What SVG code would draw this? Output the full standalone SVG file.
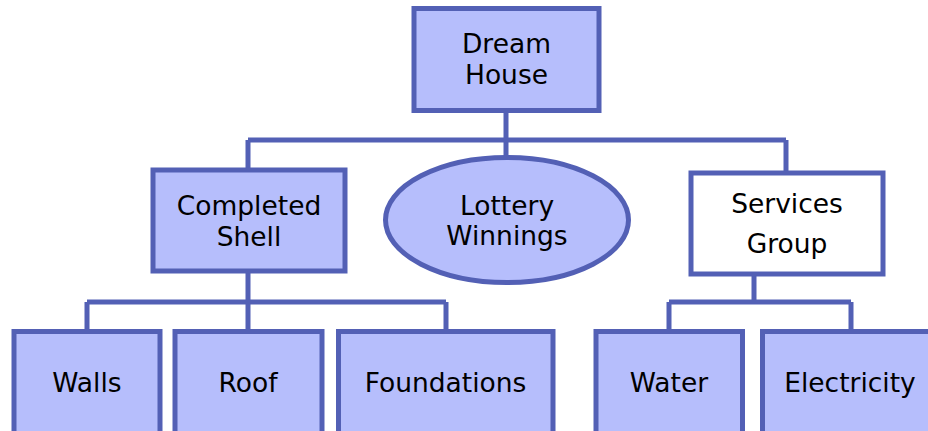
<svg xmlns="http://www.w3.org/2000/svg" width="928" height="431" viewBox="0 0 928 431">
<style>
.box{fill:#B6BEFC;stroke:#5360B5;stroke-width:5}
.wbox{fill:#FFFFFF;stroke:#5360B5;stroke-width:5}
.conn{fill:none;stroke:#5360B5;stroke-width:5}
text{font-family:"DejaVu Sans","Verdana",sans-serif;font-size:26.5px;fill:#000;text-anchor:middle}
</style>
<rect width="928" height="431" fill="#FFFFFF"/>
<g id="connectors">
<path class="conn" d="M506,112 V158 M248,140 H786 M248,140 V170 M786,140 V173"/>
<path class="conn" d="M248,271 V302 M87,302 H446 M87,302 V331 M248,302 V331 M446,302 V331"/>
<path class="conn" d="M754,274 V302 M669,302 H851 M669,302 V331 M851,302 V331"/>
</g>
<g id="dream-house">
<rect class="box" x="414" y="8.5" width="185" height="102"/>
<text x="506.5" y="53">Dream</text>
<text x="506.5" y="84">House</text>
</g>
<g id="completed-shell">
<rect class="box" x="153" y="170" width="192" height="101"/>
<text x="249" y="215">Completed</text>
<text x="249" y="246">Shell</text>
</g>
<g id="lottery-winnings">
<ellipse class="box" cx="507" cy="220" rx="121.5" ry="62.5"/>
<text x="507" y="215">Lottery</text>
<text x="507" y="245">Winnings</text>
</g>
<g id="services-group">
<rect class="wbox" x="691" y="173" width="192" height="101"/>
<text x="787" y="213">Services</text>
<text x="787" y="253">Group</text>
</g>
<g id="walls">
<rect class="box" x="14" y="331.5" width="146" height="120"/>
<text x="87" y="392">Walls</text>
</g>
<g id="roof">
<rect class="box" x="175" y="331.5" width="147" height="120"/>
<text x="248" y="392">Roof</text>
</g>
<g id="foundations">
<rect class="box" x="338.5" y="331.5" width="214.5" height="120"/>
<text x="445.5" y="392">Foundations</text>
</g>
<g id="water">
<rect class="box" x="596" y="331.5" width="146.5" height="120"/>
<text x="669" y="392">Water</text>
</g>
<g id="electricity">
<rect class="box" x="762.5" y="331.5" width="200" height="120"/>
<text x="850" y="392">Electricity</text>
</g>
</svg>
